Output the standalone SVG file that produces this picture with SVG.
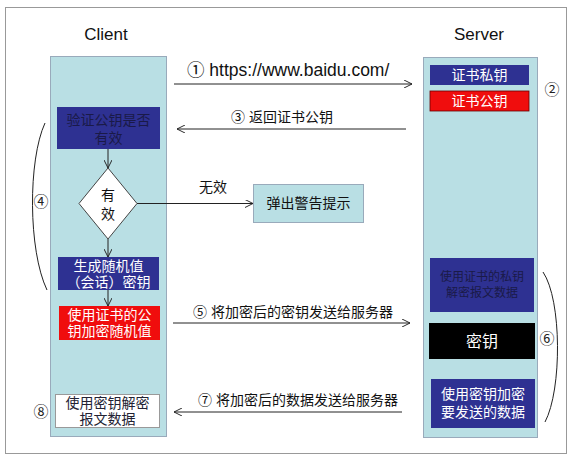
<svg xmlns="http://www.w3.org/2000/svg" width="577" height="464" viewBox="0 0 577 464">
<defs>
<style>
text{font-family:"Liberation Sans","Noto Sans CJK SC",sans-serif;}
.cjk{font-family:"Liberation Sans","Noto Sans CJK SC",sans-serif;}
.col{fill:#b9dfe4;stroke:#9ab;stroke-width:1;}
.blue{fill:#2e3192;}
.red{fill:#f00d0d;}
.w{fill:#fff;}
.dk{fill:#1a1a48;}
.ln{stroke:#222;stroke-width:1;fill:none;}
.lbl{font-size:14px;fill:#111;}
</style>
<marker id="ah" viewBox="0 0 10 10" refX="10" refY="5" markerWidth="8" markerHeight="8" orient="auto" markerUnits="userSpaceOnUse">
<path d="M0,0 L10,5 L0,10" fill="none" stroke="#222" stroke-width="1.2"/>
</marker>
</defs>
<rect x="0" y="0" width="577" height="464" fill="#fff"/>
<rect x="5.5" y="7.5" width="561" height="446" fill="#fff" stroke="#999" stroke-width="1"/>

<g id="client">
<rect class="col" x="50.5" y="56.5" width="116" height="380"/>
<text x="106" y="40" font-size="17" text-anchor="middle" fill="#111">Client</text>
</g>
<g id="server">
<rect class="col" x="423.5" y="57.5" width="114" height="380"/>
<text x="479" y="40" font-size="17" text-anchor="middle" fill="#111">Server</text>
</g>

<g id="priv-key">
<rect class="blue" x="430" y="65" width="99" height="20"/>
<text class="cjk w" x="479.5" y="80" font-size="14" text-anchor="middle">证书私钥</text>
</g>
<g id="pub-key">
<rect class="red" x="430" y="91" width="99" height="20" stroke="#600" stroke-width="0.8"/>
<text class="cjk w" x="479.5" y="106" font-size="14" text-anchor="middle">证书公钥</text>
</g>
<text class="cjk" x="552" y="95" font-size="15" text-anchor="middle" fill="#222">②</text>

<g id="verify">
<rect class="blue" x="57" y="107" width="103" height="42"/>
<text class="cjk dk" x="108.5" y="125" font-size="14" text-anchor="middle">验证公钥是否</text>
<text class="cjk dk" x="108.5" y="143" font-size="14" text-anchor="middle">有效</text>
</g>

<g id="valid">
<polygon points="108,168 137,203.5 108,239 79,203.5" fill="#fff" stroke="#444" stroke-width="1"/>
<text class="cjk" x="108" y="200" font-size="14" text-anchor="middle" fill="#111">有</text>
<text class="cjk" x="108" y="219" font-size="14" text-anchor="middle" fill="#111">效</text>
</g>

<g id="warn">
<rect x="253.5" y="184.5" width="110" height="38" fill="#b9dfe4" stroke="#9ab" stroke-width="1"/>
<text class="cjk" x="308.5" y="208" font-size="14" text-anchor="middle" fill="#111">弹出警告提示</text>
</g>

<g id="gen">
<rect class="blue" x="58" y="257" width="101" height="33"/>
<text class="cjk w" x="108.5" y="271" font-size="14" text-anchor="middle">生成随机值</text>
<text class="cjk w" x="108.5" y="287" font-size="14" text-anchor="middle">（会话）密钥</text>
</g>

<g id="encrypt">
<rect class="red" x="59" y="306" width="101" height="34"/>
<text class="cjk w" x="109.5" y="320" font-size="14" text-anchor="middle">使用证书的公</text>
<text class="cjk w" x="109.5" y="336" font-size="14" text-anchor="middle">钥加密随机值</text>
</g>

<g id="decrypt-client">
<rect x="55.5" y="394.5" width="104" height="33" fill="#fff" stroke="#999" stroke-width="1"/>
<text class="cjk" x="107.5" y="408" font-size="14" text-anchor="middle" fill="#223">使用密钥解密</text>
<text class="cjk" x="107.5" y="424" font-size="14" text-anchor="middle" fill="#223">报文数据</text>
</g>
<text class="cjk" x="41" y="417" font-size="15" text-anchor="middle" fill="#222">⑧</text>

<g id="decrypt-server">
<rect class="blue" x="430" y="258" width="104" height="54"/>
<text class="cjk dk" x="482" y="281" font-size="12" text-anchor="middle">使用证书的私钥</text>
<text class="cjk dk" x="482" y="297" font-size="12" text-anchor="middle">解密报文数据</text>
</g>
<g id="session-key">
<rect x="429" y="323" width="106" height="36" fill="#000"/>
<text class="cjk w" x="482" y="347" font-size="16" text-anchor="middle">密钥</text>
</g>
<g id="encrypt-server">
<rect class="blue" x="431" y="379" width="104" height="49"/>
<text class="cjk w" x="483" y="399" font-size="14" text-anchor="middle">使用密钥加密</text>
<text class="cjk w" x="483" y="417" font-size="14" text-anchor="middle">要发送的数据</text>
</g>

<g id="connectors">
<line class="ln" x1="174" y1="84" x2="412" y2="84" marker-end="url(#ah)"/>
<text x="187" y="76" font-size="17.5" fill="#111"><tspan class="cjk">①</tspan> https://www.baidu.com/</text>
<line class="ln" x1="406" y1="129" x2="177" y2="129" marker-end="url(#ah)"/>
<text class="cjk lbl" x="231" y="122">③ 返回证书公钥</text>
<line class="ln" x1="108" y1="149" x2="108" y2="168" marker-end="url(#ah)"/>
<line class="ln" x1="137" y1="203.5" x2="253" y2="203.5" marker-end="url(#ah)"/>
<text class="cjk lbl" x="199" y="192">无效</text>
<line class="ln" x1="108" y1="239" x2="108" y2="257" marker-end="url(#ah)"/>
<line class="ln" x1="108" y1="290" x2="108" y2="306" marker-end="url(#ah)"/>
<line class="ln" x1="173" y1="323" x2="410" y2="323" marker-end="url(#ah)"/>
<text class="cjk lbl" x="193" y="317">⑤ 将加密后的密钥发送给服务器</text>
<line class="ln" x1="402" y1="412" x2="174" y2="412" marker-end="url(#ah)"/>
<text class="cjk lbl" x="198" y="405">⑦ 将加密后的数据发送给服务器</text>
<path class="ln" d="M45,123 C28,160 28,250 47,290"/>
<text class="cjk" x="41" y="207" font-size="15" text-anchor="middle" fill="#222">④</text>
<path class="ln" d="M543,272 C562,300 562,390 545,422"/>
<text class="cjk" x="547" y="344" font-size="15" text-anchor="middle" fill="#222">⑥</text>
</g>
</svg>
